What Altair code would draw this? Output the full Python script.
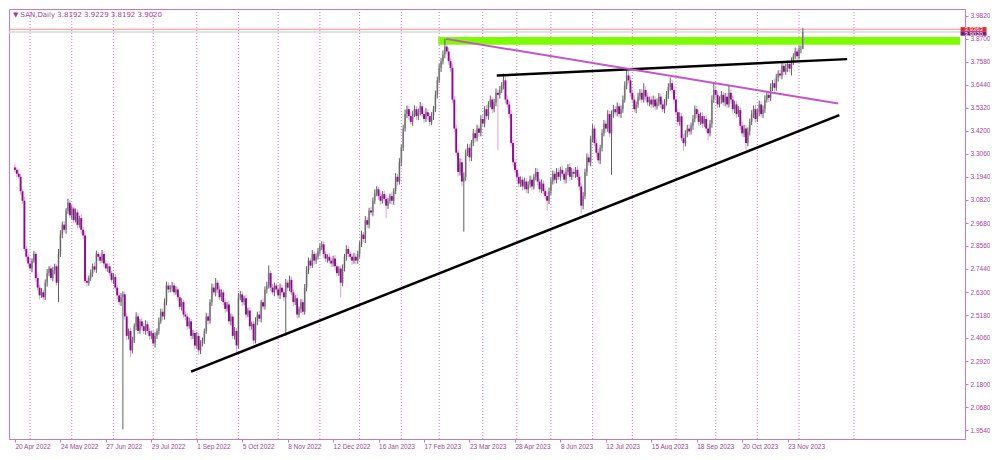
import json
import altair as alt
import pandas as pd

# ---------------- data ----------------
first_open = 3.240
closes = [
    3.228, 3.209, 3.194, 3.124, 3.077, 2.841, 2.803, 2.770, 2.746, 2.784,
    2.817, 2.699, 2.652, 2.614, 2.629, 2.605, 2.676, 2.723, 2.746, 2.699,
    2.737, 2.756, 2.676, 2.817, 2.912, 2.960, 2.935, 3.029, 3.067, 3.006,
    3.039, 2.982, 3.020, 2.959, 2.992, 2.935, 2.907, 2.685, 2.676, 2.699,
    2.723, 2.756, 2.740, 2.817, 2.803, 2.784, 2.817, 2.770, 2.746, 2.756,
    2.723, 2.690, 2.705, 2.652, 2.614, 2.581, 2.605, 2.619, 2.511, 2.416,
    2.440, 2.345, 2.393, 2.463, 2.511, 2.440, 2.487, 2.463, 2.440, 2.473,
    2.440, 2.416, 2.430, 2.379, 2.416, 2.440, 2.487, 2.534, 2.511, 2.581,
    2.662, 2.643, 2.652, 2.662, 2.629, 2.643, 2.605, 2.558, 2.581, 2.520,
    2.511, 2.463, 2.487, 2.416, 2.430, 2.369, 2.416, 2.345, 2.379, 2.393,
    2.440, 2.511, 2.490, 2.581, 2.652, 2.629, 2.676, 2.643, 2.605, 2.629,
    2.581, 2.548, 2.570, 2.487, 2.510, 2.416, 2.440, 2.369, 2.605, 2.619,
    2.581, 2.600, 2.520, 2.540, 2.463, 2.475, 2.393, 2.487, 2.520, 2.500,
    2.581, 2.560, 2.643, 2.662, 2.723, 2.652, 2.629, 2.662, 2.643, 2.614,
    2.652, 2.629, 2.605, 2.676, 2.652, 2.690, 2.629, 2.581, 2.600, 2.520,
    2.548, 2.581, 2.534, 2.652, 2.737, 2.784, 2.760, 2.817, 2.784, 2.803,
    2.831, 2.850, 2.864, 2.817, 2.794, 2.803, 2.784, 2.770, 2.794, 2.756,
    2.723, 2.745, 2.676, 2.746, 2.803, 2.841, 2.817, 2.803, 2.784, 2.803,
    2.784, 2.817, 2.864, 2.912, 2.890, 2.982, 2.960, 3.029, 3.020, 3.077,
    3.114, 3.133, 3.100, 3.077, 3.110, 3.086, 3.053, 3.077, 3.100, 3.077,
    3.124, 3.194, 3.170, 3.265, 3.336, 3.430, 3.501, 3.525, 3.491, 3.463,
    3.501, 3.525, 3.491, 3.510, 3.539, 3.501, 3.477, 3.510, 3.491, 3.463,
    3.491, 3.525, 3.595, 3.666, 3.727, 3.760, 3.793, 3.831, 3.807, 3.760,
    3.727, 3.572, 3.430, 3.312, 3.218, 3.265, 3.171, 3.194, 3.312, 3.336,
    3.289, 3.359, 3.407, 3.383, 3.430, 3.410, 3.477, 3.455, 3.525, 3.491,
    3.548, 3.572, 3.525, 3.558, 3.605, 3.595, 3.619, 3.642, 3.666, 3.572,
    3.548, 3.501, 3.359, 3.265, 3.228, 3.194, 3.161, 3.180, 3.147, 3.171,
    3.133, 3.157, 3.180, 3.147, 3.194, 3.218, 3.171, 3.133, 3.161, 3.124,
    3.100, 3.077, 3.124, 3.171, 3.209, 3.180, 3.218, 3.194, 3.228, 3.209,
    3.180, 3.218, 3.242, 3.194, 3.218, 3.209, 3.228, 3.194, 3.147, 3.053,
    3.100, 3.218, 3.289, 3.265, 3.380, 3.430, 3.359, 3.312, 3.275, 3.336,
    3.407, 3.454, 3.430, 3.501, 3.407, 3.501, 3.525, 3.510, 3.539, 3.501,
    3.525, 3.572, 3.642, 3.690, 3.666, 3.605, 3.572, 3.525, 3.548, 3.586,
    3.605, 3.572, 3.619, 3.586, 3.558, 3.572, 3.548, 3.572, 3.539, 3.558,
    3.586, 3.548, 3.525, 3.558, 3.595, 3.633, 3.652, 3.619, 3.572, 3.510,
    3.463, 3.490, 3.383, 3.359, 3.407, 3.430, 3.416, 3.444, 3.477, 3.525,
    3.501, 3.463, 3.491, 3.454, 3.477, 3.430, 3.407, 3.454, 3.572, 3.619,
    3.595, 3.548, 3.572, 3.595, 3.558, 3.586, 3.548, 3.605, 3.572, 3.525,
    3.548, 3.501, 3.520, 3.444, 3.407, 3.430, 3.359, 3.416, 3.463, 3.501,
    3.525, 3.477, 3.510, 3.548, 3.501, 3.525, 3.572, 3.595, 3.580, 3.633,
    3.652, 3.630, 3.680, 3.699, 3.690, 3.737, 3.708, 3.727, 3.746, 3.723,
    3.760, 3.784, 3.807, 3.784, 3.817, 3.819, 3.902,
]
# wick lengths above / below the body, in thousandths of a unit
upper_wick = [
    18, 12, 22, 15, 10, 20, 14, 17, 25, 11,
    15, 10, 18, 14, 21, 12, 16, 20, 11, 15,
    17, 13, 10, 24, 21, 15, 18, 12, 20, 14,
    16, 11, 19, 15, 12, 18, 14, 21, 15, 12,
    18, 14, 20, 16, 11, 15, 19, 12, 18, 14,
    15, 11, 18, 14, 12, 16, 20, 15, 14, 18,
    12, 15, 19, 14, 21, 16, 12, 18, 15, 20,
    14, 16, 11, 15, 18, 12, 19, 15, 14, 18,
    20, 15, 12, 18, 14, 16, 11, 15, 19, 12,
    16, 14, 18, 12, 15, 11, 20, 14, 16, 15,
    12, 18, 15, 14, 20, 16, 23, 12, 18, 15,
    14, 16, 12, 18, 15, 11, 19, 14, 21, 16,
    15, 12, 18, 14, 16, 11, 15, 20, 14, 18,
    12, 16, 15, 19, 38, 14, 18, 15, 12, 16,
    20, 14, 15, 18, 12, 21, 16, 14, 15, 19,
    12, 16, 14, 18, 20, 15, 12, 19, 14, 16,
    15, 18, 15, 14, 16, 12, 19, 15, 14, 18,
    16, 12, 15, 20, 14, 18, 15, 12, 16, 19,
    14, 16, 15, 18, 12, 20, 15, 14, 18, 16,
    19, 15, 12, 18, 14, 16, 20, 15, 12, 18,
    15, 18, 14, 20, 16, 19, 22, 18, 15, 20,
    16, 19, 14, 18, 21, 15, 18, 20, 14, 16,
    19, 15, 21, 18, 20, 16, 19, 38, 22, 20,
    18, 21, 16, 20, 15, 19, 18, 22, 16, 20,
    18, 15, 21, 16, 19, 14, 18, 20, 15, 19,
    16, 20, 15, 18, 21, 16, 19, 15, 33, 18,
    20, 16, 19, 15, 18, 14, 20, 16, 15, 19,
    18, 15, 20, 16, 14, 19, 18, 15, 21, 16,
    15, 19, 18, 20, 16, 14, 19, 18, 15, 20,
    16, 19, 15, 18, 20, 16, 14, 19, 18, 15,
    20, 16, 19, 18, 15, 21, 16, 19, 18, 15,
    20, 18, 16, 19, 15, 18, 21, 16, 19, 15,
    18, 20, 19, 37, 21, 18, 16, 20, 15, 19,
    18, 20, 33, 16, 19, 15, 18, 20, 16, 19,
    18, 15, 20, 16, 19, 18, 28, 16, 19, 15,
    18, 20, 16, 19, 15, 18, 20, 16, 19, 18,
    16, 19, 18, 20, 15, 18, 16, 19, 21, 38,
    18, 20, 16, 19, 15, 18, 20, 37, 16, 19,
    18, 15, 20, 16, 19, 18, 15, 20, 16, 19,
    18, 20, 16, 19, 15, 18, 20, 16, 19, 18,
    15, 20, 18, 16, 19, 15, 18, 20, 16, 19,
    18, 15, 20, 16, 19, 18, 21,
]
lower_wick = [
    14, 18, 11, 20, 15, 12, 21, 16, 14, 19,
    11, 18, 15, 20, 12, 16, 14, 19, 15, 11,
    16, 20, 14, 95, 15, 18, 12, 20, 16, 14,
    19, 15, 11, 18, 14, 20, 16, 12, 19, 15,
    14, 18, 12, 16, 20, 15, 11, 19, 14, 18,
    16, 12, 20, 15, 18, 14, 19, 646, 16, 20,
    18, 33, 15, 12, 19, 16, 14, 20, 15, 18,
    12, 19, 16, 14, 20, 15, 18, 12, 19, 16,
    15, 18, 14, 20, 16, 12, 19, 15, 18, 14,
    20, 16, 12, 18, 15, 19, 14, 23, 18, 15,
    16, 14, 19, 15, 18, 12, 20, 16, 14, 18,
    15, 19, 14, 16, 20, 15, 18, 33, 16, 14,
    19, 15, 18, 12, 20, 16, 18, 14, 19, 15,
    18, 14, 16, 20, 15, 18, 12, 19, 16, 15,
    18, 14, 20, 189, 15, 18, 16, 19, 14, 18,
    15, 20, 16, 14, 18, 19, 15, 12, 20, 16,
    14, 18, 15, 19, 16, 20, 14, 18, 15, 19,
    16, 14, 71, 18, 15, 19, 16, 14, 20, 15,
    18, 15, 19, 14, 16, 20, 15, 18, 14, 19,
    16, 15, 20, 18, 14, 19, 61, 16, 15, 18,
    20, 15, 18, 14, 19, 16, 15, 20, 18, 14,
    19, 15, 18, 20, 16, 14, 19, 15, 18, 20,
    16, 19, 15, 18, 14, 20, 16, 19, 15, 18,
    20, 18, 19, 16, 21, 18, 24, 245, 19, 16,
    20, 18, 15, 19, 16, 20, 18, 15, 19, 16,
    18, 15, 20, 16, 19, 270, 18, 15, 20, 19,
    16, 19, 18, 20, 15, 18, 19, 16, 20, 15,
    18, 20, 16, 19, 15, 18, 20, 16, 19, 15,
    18, 48, 16, 19, 15, 20, 18, 16, 19, 15,
    20, 18, 16, 19, 15, 18, 20, 16, 19, 38,
    18, 15, 20, 16, 19, 18, 15, 20, 16, 19,
    18, 15, 20, 16, 19, 203, 18, 15, 20, 16,
    19, 18, 15, 20, 16, 19, 18, 15, 20, 16,
    19, 18, 15, 20, 16, 19, 18, 15, 20, 16,
    19, 18, 15, 20, 16, 19, 18, 15, 20, 16,
    19, 18, 15, 37, 16, 19, 18, 15, 20, 16,
    19, 18, 15, 20, 16, 19, 33, 15, 20, 16,
    19, 18, 15, 20, 16, 19, 18, 15, 20, 16,
    19, 18, 15, 20, 16, 19, 33, 15, 20, 16,
    19, 18, 15, 20, 16, 19, 18, 15, 20, 16,
    19, 18, 15, 20, 16, 19, 18, 15, 20, 16,
    33, 18, 15, 20, 16, 19, 0,
]

tick_idx = list(range(0, 409, 24))
tick_labels = ["20 Apr 2022", "24 May 2022", "27 Jun 2022", "29 Jul 2022",
               "1 Sep 2022", "5 Oct 2022", "8 Nov 2022", "12 Dec 2022",
               "16 Jan 2023", "17 Feb 2023", "23 Mar 2023", "28 Apr 2023",
               "8 Jun 2023", "12 Jul 2023", "15 Aug 2023", "18 Sep 2023",
               "20 Oct 2023", "23 Nov 2023"]
price_ticks = [3.982, 3.870, 3.758, 3.644, 3.532, 3.420, 3.306, 3.194, 3.082,
               2.968, 2.856, 2.744, 2.630, 2.518, 2.406, 2.292, 2.180, 2.068, 1.954]
month_sep_idx = [8, 30, 52, 73, 96, 118, 139, 161, 182, 204, 224, 247, 265,
                 283, 305, 326, 349, 370, 392, 414, 443]

lower_trend_idx = [93.0, 435.3]
lower_trend_price = [2.2415, 3.4962]
upper_trend_idx = [254.4, 439.4]
upper_trend_price = [3.6896, 3.7698]
mag_trend_idx = [227.6, 434.7]
mag_trend_price = [3.8688, 3.5528]

zone_idx = [223.5, 499.0]
zone_price = [3.8405, 3.8782]

red_line_price = 3.916
bid_line_price = 3.902
red_label = "3.9363"
bid_label = "3.9020"
header = "\u25BC SAN,Daily  3.8192 3.9229 3.8192 3.9020"

# ---------------- build tables ----------------
opens = [first_open] + closes[:-1]
rows = []
for i, (o, c, u, l) in enumerate(zip(opens, closes, upper_wick, lower_wick)):
    rows.append({
        "idx": i, "open": o, "close": c,
        "high": max(o, c) + u / 1000.0,
        "low": min(o, c) - l / 1000.0,
        "dir": "up" if c >= o else "down",
    })
df = pd.DataFrame(rows)

X_DOMAIN = [-0.5, 499.0]
Y_DOMAIN = [1.9115, 4.015]
FRAME = "#C27BC2"
LABEL = "#9E3F9E"

xscale = alt.Scale(domain=X_DOMAIN, nice=False, zero=False)
yscale = alt.Scale(domain=Y_DOMAIN, nice=False, zero=False)
label_expr = json.dumps(tick_labels) + "[round(datum.value / 24)]"
xaxis = alt.Axis(values=tick_idx, labelExpr=label_expr, title=None, grid=False,
                 labelAlign="left", labelFlush=False, labelOverlap=False,
                 labelPadding=1, tickSize=3, labelBound=False)
yaxis = alt.Axis(orient="right", values=price_ticks, format=".4f", title=None,
                 grid=False, labelFlush=False, labelOverlap=False,
                 labelPadding=2, tickSize=3)


def X(f):
    return alt.X(f, type="quantitative", scale=xscale, axis=xaxis)


def Y(f):
    return alt.Y(f, type="quantitative", scale=yscale, axis=yaxis)


sep_df = pd.DataFrame({"idx": month_sep_idx})
seps = alt.Chart(sep_df).mark_rule(color="#CC77CC", strokeDash=[1, 2],
                                   strokeWidth=1).encode(x=X("idx"))

zone_df = pd.DataFrame({"x0": [zone_idx[0]], "x1": [zone_idx[1]],
                        "y0": [zone_price[0]], "y1": [zone_price[1]]})
zone = alt.Chart(zone_df).mark_rect(color="#7CFC00", clip=True).encode(
    x=X("x0"), x2="x1", y=Y("y0"), y2="y1")

red_df = pd.DataFrame({"price": [red_line_price]})
bid_df = pd.DataFrame({"price": [bid_line_price]})
red_line = alt.Chart(red_df).mark_rule(color="#FF8C8C", strokeWidth=1).encode(y=Y("price"))
bid_line = alt.Chart(bid_df).mark_rule(color="#D8D8D8", strokeWidth=1.5).encode(y=Y("price"))

wick_down = alt.Chart(df).transform_filter(alt.datum.dir == "down").mark_rule(
    color="#D9A3D9", strokeWidth=1, clip=True).encode(x=X("idx"), y=Y("low"), y2="high")
body_up = alt.Chart(df).transform_filter(alt.datum.dir == "up").mark_bar(
    size=1.9, color="#B2B2B2", clip=True).encode(x=X("idx"), y=Y("open"), y2="close")
body_down = alt.Chart(df).transform_filter(alt.datum.dir == "down").mark_bar(
    size=1.9, color="#990099", clip=True).encode(x=X("idx"), y=Y("open"), y2="close")
wick_up = alt.Chart(df).transform_filter(alt.datum.dir == "up").mark_rule(
    color="#5E5E5E", strokeWidth=1, clip=True).encode(x=X("idx"), y=Y("low"), y2="high")

black_df = pd.DataFrame({
    "idx": lower_trend_idx + upper_trend_idx,
    "price": lower_trend_price + upper_trend_price,
    "line": ["lower", "lower", "upper", "upper"],
})
black_lines = alt.Chart(black_df).mark_line(color="black", strokeWidth=2.5).encode(
    x=X("idx"), y=Y("price"), detail="line:N")
mag_df = pd.DataFrame({"idx": mag_trend_idx, "price": mag_trend_price})
mag_line = alt.Chart(mag_df).mark_line(color="#C455C8", strokeWidth=2).encode(
    x=X("idx"), y=Y("price"))

box_df = pd.DataFrame({
    "x0": [499.3, 499.3], "x1": [513.0, 513.0],
    "y0": [3.9265, 3.9055], "y1": [3.9055, 3.8845],
    "yc": [3.916, 3.895], "xm": [506.2, 506.2],
    "txt": [red_label, bid_label], "kind": ["red", "bid"],
})
red_box = alt.Chart(box_df).transform_filter(alt.datum.kind == "red").mark_rect(
    color="#E8262E").encode(x=X("x0"), x2="x1", y=Y("y0"), y2="y1")
bid_box = alt.Chart(box_df).transform_filter(alt.datum.kind == "bid").mark_rect(
    color="#7A1A7A").encode(x=X("x0"), x2="x1", y=Y("y0"), y2="y1")
box_text = alt.Chart(box_df).mark_text(fontSize=6, color="white", font="Liberation Sans",
                                       baseline="middle", align="center").encode(
    x=X("xm"), y=Y("yc"), text="txt:N")

head_df = pd.DataFrame({"t": [header]})
head = alt.Chart(head_df).mark_text(align="left", baseline="middle", fontSize=7,
                                    font="DejaVu Sans", color=LABEL).encode(
    x=alt.value(4), y=alt.value(6), text="t:N")

chart = alt.layer(
    seps, zone, red_line, bid_line, wick_down, body_up, body_down, wick_up,
    black_lines, mag_line, red_box, bid_box, box_text, head,
).properties(width=956, height=430, padding=0, background="white").configure_view(
    stroke=FRAME, strokeWidth=1
).configure_axis(
    domainColor=FRAME, tickColor=FRAME, labelColor=LABEL,
    labelFont="Liberation Sans", labelFontSize=6.5,
)

chart.save("out.html", embed_options={"renderer": "svg", "actions": False})
